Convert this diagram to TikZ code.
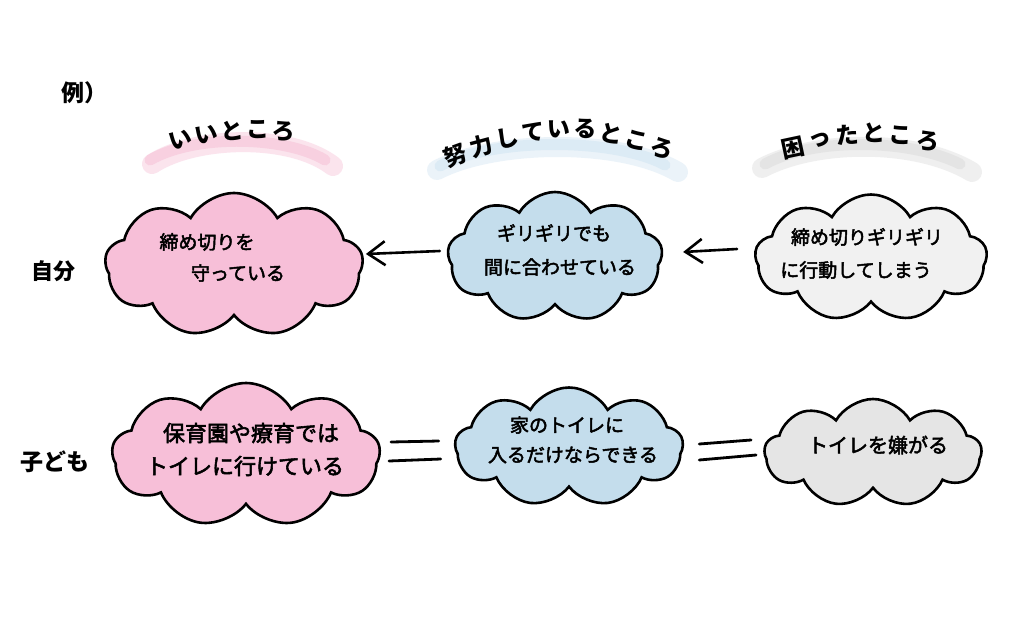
\documentclass[tikz,border=0pt]{standalone}
\usepackage{fontspec}
\newfontfamily\jp{Noto Sans CJK JP}
\newfontfamily\jpb{Noto Sans CJK JP}[FakeBold=2.5]
\usetikzlibrary{shapes.symbols,arrows.meta,calc}
\definecolor{pinkfill}{RGB}{247,191,216}
\definecolor{bluefill}{RGB}{196,221,236}
\definecolor{grayfillA}{RGB}{241,241,241}
\definecolor{grayfillB}{RGB}{229,229,229}
\definecolor{pinkbrush}{RGB}{244,178,206}
\definecolor{bluebrush}{RGB}{198,223,240}
\definecolor{graybrush}{RGB}{212,212,212}
\begin{document}
\begin{tikzpicture}[x=1pt,y=-1pt,
  cloudbox/.style={cloud, cloud puffs=9, cloud puff arc=120, cloud ignores aspect, draw=black, line width=2.6pt, inner sep=0pt},
  cloudtext/.style={font=\jpb\fontsize{19}{19}\selectfont, inner sep=0pt},
  headchar/.style={font=\jp\bfseries\fontsize{23}{23}\selectfont, inner sep=0pt},
  rowlabel/.style={font=\jp\bfseries\fontsize{22}{22}\selectfont, inner sep=0pt},
  brushwide/.style={line width=20pt, line cap=round, opacity=0.35},
  brushthin/.style={line width=11pt, line cap=round, opacity=0.4},
  arr/.style={line width=2.6pt, line cap=round, -{Straight Barb[length=17pt,width=24pt,line width=2.6pt]}},
  eqline/.style={line width=2.8pt, line cap=round}]
\useasboundingbox (0,0) rectangle (1024,640);
\fill[white] (0,0) rectangle (1024,640);

% brushes
\draw[brushwide, draw=pinkbrush] (152,164) .. controls (195,136) and (290,133) .. (333,166);
\draw[brushthin, draw=pinkbrush] (150,160) .. controls (195,134) and (285,136) .. (325,160);
\draw[brushwide, draw=bluebrush] (437,170) .. controls (495,140) and (620,138) .. (678,172);
\draw[brushthin, draw=bluebrush] (440,166) .. controls (495,137) and (615,138) .. (665,165);
\draw[brushwide, draw=graybrush] (762,168) .. controls (815,140) and (915,138) .. (972,172);
\draw[brushthin, draw=graybrush] (765,164) .. controls (815,137) and (910,139) .. (960,164);

% headers
\foreach \c/\x/\y/\r [count=\i] in {い/181/140/15, い/206/135/10, と/232/131/5, こ/258/130/0, ろ/284/132/-5}
  \node[headchar, rotate=\r] (ha\i) at (\x,\y) {\c};
\foreach \c/\x/\y/\r [count=\i] in {努/455/155/20, 力/481/146/15, し/507/138/10, て/533/132/5, い/559/129/1, る/585/129/-3, と/611/134/-9, こ/637/141/-14, ろ/662/149/-19}
  \node[headchar, rotate=\r] (hb\i) at (\x,\y) {\c};
\foreach \c/\x/\y/\r [count=\i] in {困/793/148/12, っ/820/140/8, た/847/135/4, と/874/133/0, こ/901/135/-4, ろ/928/141/-9}
  \node[headchar, rotate=\r] (hc\i) at (\x,\y) {\c};

% row labels
\node[font=\jp\bfseries\fontsize{23}{23}\selectfont, inner sep=0pt] (ex) at (84,93) {例）};
\node[rowlabel] (r1) at (53,271) {自分};
\node[rowlabel, font=\jp\bfseries\fontsize{23}{23}\selectfont] (r2) at (55,462) {子ども};

% clouds
\node[cloudbox, fill=pinkfill, minimum width=258pt, minimum height=144pt] (p1) at (234,265) {};
\node[cloudbox, fill=bluefill, minimum width=215pt, minimum height=130pt] (b1) at (555,257) {};
\node[cloudbox, fill=grayfillA, minimum width=232pt, minimum height=127pt] (g1) at (871,258) {};
\node[cloudbox, fill=pinkfill, minimum width=268pt, minimum height=144pt] (p2) at (246,455) {};
\node[cloudbox, fill=bluefill, minimum width=228pt, minimum height=119pt] (b2) at (569,447) {};
\node[cloudbox, fill=grayfillB, minimum width=217pt, minimum height=108pt] (g2) at (873,453) {};

% cloud texts
\node[cloudtext] (p1a) at (207,242) {締め切りを};
\node[cloudtext] (p1b) at (238,273) {守っている};
\node[cloudtext] (b1a) at (554,233) {ギリギリでも};
\node[cloudtext] (b1b) at (560,267) {間に合わせている};
\node[cloudtext] (g1a) at (867,237) {締め切りギリギリ};
\node[cloudtext] (g1b) at (856,270) {に行動してしまう};
\node[cloudtext, font=\jpb\fontsize{22}{22}\selectfont] (p2a) at (251,433) {保育園や療育では};
\node[cloudtext, font=\jpb\fontsize{22}{22}\selectfont] (p2b) at (245,466) {トイレに行けている};
\node[cloudtext] (b2a) at (567,425) {家のトイレに};
\node[cloudtext] (b2b) at (573,455) {入るだけならできる};
\node[cloudtext, font=\jpb\fontsize{20}{20}\selectfont] (g2a) at (878,445) {トイレを嫌がる};

% connectors
\draw[arr] ([shift={(-7,-6)}]b1.west) -- ([shift={(2,-11)}]p1.east);
\draw[arr] ([shift={(-17,-9)}]g1.west) -- ([shift={(20,-5)}]b1.east);
\draw[eqline] ([shift={(10,-13)}]p2.east) -- ([shift={(-15,-6)}]b2.west);
\draw[eqline] ([shift={(8,6)}]p2.east) -- ([shift={(-13,12)}]b2.west);
\draw[eqline] ([shift={(15,-3)}]b2.east) -- ([shift={(-12,-13)}]g2.west);
\draw[eqline] ([shift={(15,13)}]b2.east) -- ([shift={(-7,2)}]g2.west);
\end{tikzpicture}
\end{document}
